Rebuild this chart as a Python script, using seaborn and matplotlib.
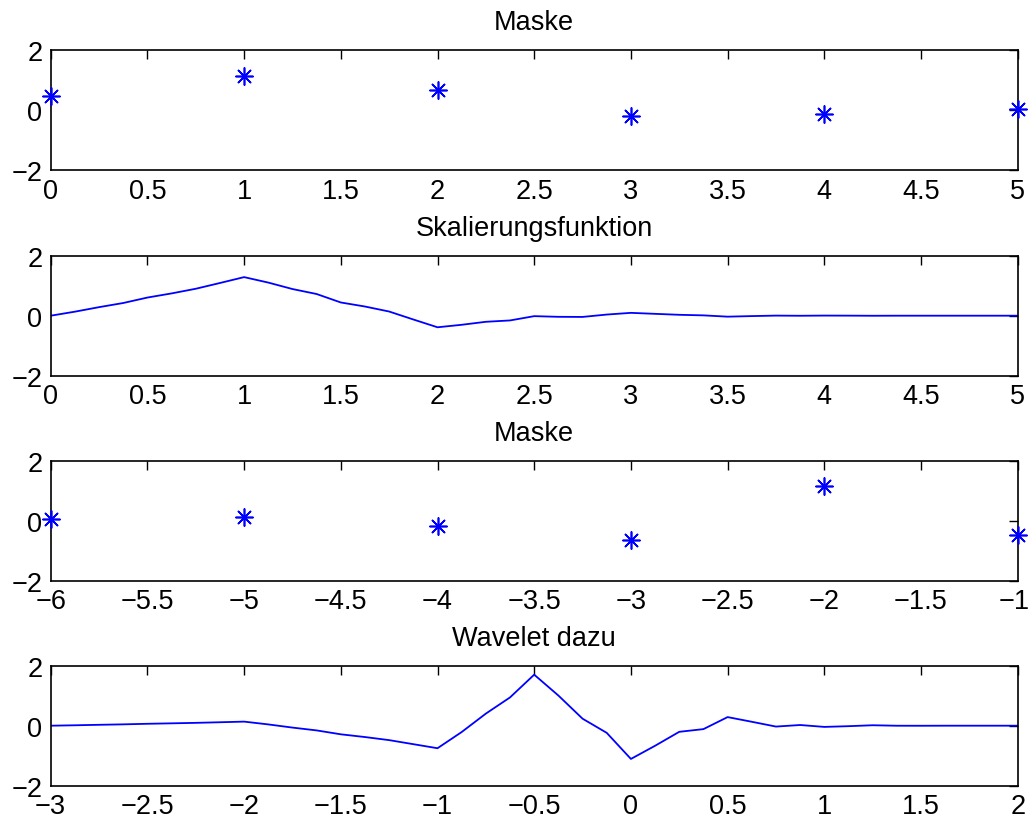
import numpy as np
import matplotlib
matplotlib.use("Agg")
import matplotlib.pyplot as plt
from matplotlib.ticker import FuncFormatter, MultipleLocator
import seaborn as sns

# Scaling mask (Daubechies, 6 taps)
mask_x = [0, 1, 2, 3, 4, 5]
mask_y = [0.4705, 1.1411, 0.6504, -0.1909, -0.1208, 0.0498]

# Scaling function sampled on a 1/8 grid over [0, 5]
phi_x = [i / 8 for i in range(41)]
phi_y = [0.000, 0.134, 0.285, 0.423, 0.605, 0.743, 0.898, 1.090,
         1.286, 1.104, 0.889, 0.723, 0.441, 0.306, 0.139, -0.126,
         -0.386, -0.303, -0.203, -0.158, -0.015, -0.037, -0.041, 0.038,
         0.095, 0.062, 0.030, 0.011, -0.032, -0.013, 0.003, -0.002,
         0.004, 0.002, -0.002, 0.000, 0.000, 0.000, 0.000, 0.000,
         0.000]

# Wavelet mask
wmask_x = [-6, -5, -4, -3, -2, -1]
wmask_y = [0.0498, 0.1208, -0.1909, -0.6504, 1.1411, -0.4705]

# Wavelet sampled on a 1/8 grid over [-3, 2]
psi_x = [-3 + i / 8 for i in range(41)]
psi_y = [0.000, 0.014, 0.030, 0.045, 0.064, 0.079, 0.095, 0.115,
         0.136, 0.043, -0.063, -0.157, -0.287, -0.378, -0.481, -0.616,
         -0.751, -0.211, 0.403, 0.943, 1.701, 1.006, 0.234, -0.238,
         -1.108, -0.669, -0.204, -0.114, 0.287, 0.131, -0.029, 0.023,
         -0.040, -0.016, 0.015, -0.001, -0.002, 0.000, 0.000, 0.000,
         0.000]

titles = ["Maske", "Skalierungsfunktion", "Maske", "Wavelet dazu"]
xlims = [(0, 5), (0, 5), (-6, -1), (-3, 2)]

sns.set_style("white")
plt.rcParams["font.family"] = ["Liberation Sans", "DejaVu Sans"]
plt.rcParams["axes.unicode_minus"] = True
plt.rcParams["text.color"] = "black"
plt.rcParams["axes.labelcolor"] = "black"

W, H = 1031, 828
fig = plt.figure(figsize=(W / 100, H / 100), dpi=100)

left, width, height = 50.7, 967.0, 120.0
tops = [51.0, 256.7, 461.7, 666.7]
LABEL_SIZE = 19.5
XPAD = 5.5


def minus(v):
    return ("%g" % v).replace("-", "\u2212")


fmt = FuncFormatter(lambda v, p: minus(v))
# the rightmost label of the wavelet mask panel is drawn separately below,
# nudged a little so that it stays inside the canvas
fmt_edge = FuncFormatter(lambda v, p: "" if abs(v - xlims[2][1]) < 1e-9 else minus(v))

axes = []
for top in tops:
    ax = fig.add_axes([left / W, (H - top - height) / H, width / W, height / H])
    axes.append(ax)

blue = (0, 0, 1)
sns.scatterplot(x=mask_x, y=mask_y, ax=axes[0], marker=(8, 2, 0), s=150,
                color=blue, linewidth=1.2, clip_on=False, zorder=3)
sns.lineplot(x=phi_x, y=phi_y, ax=axes[1], color=blue, linewidth=1.3)
sns.scatterplot(x=wmask_x, y=wmask_y, ax=axes[2], marker=(8, 2, 0), s=150,
                color=blue, linewidth=1.2, clip_on=False, zorder=3)
sns.lineplot(x=psi_x, y=psi_y, ax=axes[3], color=blue, linewidth=1.3)

for i, (ax, title, xl) in enumerate(zip(axes, titles, xlims)):
    ax.set_xlim(*xl)
    ax.set_ylim(-2, 2)
    ax.xaxis.set_major_locator(MultipleLocator(0.5))
    ax.set_yticks([-2, 0, 2])
    ax.xaxis.set_major_formatter(fmt_edge if i == 2 else fmt)
    ax.yaxis.set_major_formatter(fmt)
    ax.tick_params(direction="in", length=6.5, width=1.0, top=True, right=True,
                   labelsize=LABEL_SIZE, colors="black")
    ax.tick_params(axis="x", pad=XPAD)
    ax.tick_params(axis="y", pad=6)
    for s in ax.spines.values():
        s.set_visible(True)
        s.set_color("black")
        s.set_linewidth(1.2)
    ax.set_title(title, fontsize=LABEL_SIZE, pad=15, color="black")
    ax.set_xlabel("")
    ax.set_ylabel("")
    ax.set_facecolor("white")

axes[2].annotate(minus(xlims[2][1]), xy=(xlims[2][1], 0),
                 xycoords=("data", "axes fraction"),
                 xytext=(-2.5, -XPAD), textcoords="offset points",
                 ha="center", va="top", fontsize=LABEL_SIZE, color="black",
                 annotation_clip=False)

fig.savefig("out.png", dpi=100, facecolor="white")
